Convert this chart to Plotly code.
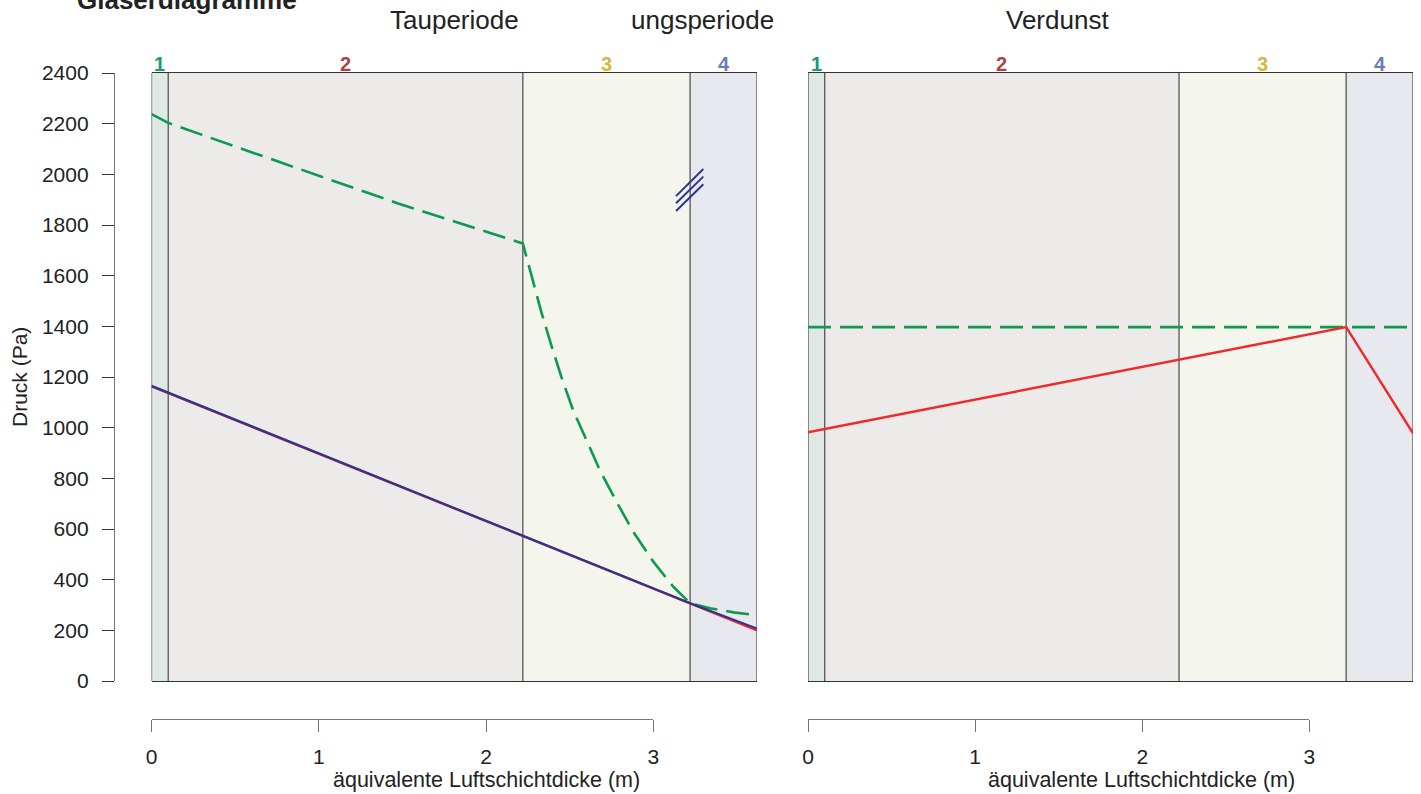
import plotly.graph_objects as go

# ---------------- data ----------------
layer_names = ["1", "2", "3", "4"]
layer_bounds = [0.0, 0.10, 2.22, 3.22, 3.62]
layer_fill = ["#e0e8e5", "#ecebe9", "#f4f5ed", "#e8e9ee"]
layer_label_colors = ["#1b9a6c", "#a3474a", "#cdbd3c", "#6a7ab8"]

x_ticks = [0, 1, 2, 3]
y_ticks = [0, 200, 400, 600, 800, 1000, 1200, 1400, 1600, 1800, 2000, 2200, 2400]

# Tauperiode (left panel)
tau_psat_x = [0.0, 0.10, 0.50, 0.90, 1.47, 2.22, 2.28, 2.33, 2.39, 2.45, 2.52, 2.60,
              2.68, 2.78, 2.88, 3.00, 3.12, 3.22, 3.34, 3.48, 3.62]
tau_psat_y = [2238, 2203, 2110, 2017, 1886, 1727, 1583, 1458, 1326, 1201, 1070, 951,
              833, 708, 589, 471, 372, 307, 287, 271, 260]
tau_pv_x = [0.0, 3.62]
tau_pv_y = [1163, 200]
tau_pc_x = [0.0, 3.22, 3.62]
tau_pc_y = [1165, 307, 207]
hatch_x = [3.136, 3.299]
hatch_y = [[1914, 2021], [1886, 1991], [1855, 1961]]

# Verdunstungsperiode (right panel)
verd_psat_x = [0.0, 3.62]
verd_psat_y = [1397, 1397]
verd_pv_x = [0.0, 3.22, 3.62]
verd_pv_y = [982, 1397, 978]

# ---------------- styling / layout ----------------
W, H = 1421, 794
FONT = "Liberation Sans, Arial, Helvetica, sans-serif"
GREEN = "#0b9a50"
RED = "#f02a2a"
BLUE = "#2b3592"

def fx(px):
    return px / W

def fy(py):
    return 1 - py / H

panel_top, panel_bot = 73, 681
left_x0, left_x1 = 151.5, 757
right_x0, right_x1 = 808, 1413
x_max = layer_bounds[-1]

fig = go.Figure()

dash = "23px,9px"
# left panel traces
fig.add_trace(go.Scatter(x=tau_psat_x, y=tau_psat_y, mode="lines", xaxis="x", yaxis="y",
                         line=dict(color=GREEN, width=2.6, dash=dash), hoverinfo="skip"))
fig.add_trace(go.Scatter(x=tau_pv_x, y=tau_pv_y, mode="lines", xaxis="x", yaxis="y",
                         line=dict(color=RED, width=2.4), hoverinfo="skip"))
fig.add_trace(go.Scatter(x=tau_pc_x, y=tau_pc_y, mode="lines", xaxis="x", yaxis="y",
                         line=dict(color=BLUE, width=2.2), hoverinfo="skip"))
for hy in hatch_y:
    fig.add_trace(go.Scatter(x=hatch_x, y=hy, mode="lines", xaxis="x", yaxis="y",
                             line=dict(color=BLUE, width=2), hoverinfo="skip"))
# right panel traces
fig.add_trace(go.Scatter(x=verd_psat_x, y=verd_psat_y, mode="lines", xaxis="x2", yaxis="y2",
                         line=dict(color=GREEN, width=2.6, dash=dash), hoverinfo="skip"))
fig.add_trace(go.Scatter(x=verd_pv_x, y=verd_pv_y, mode="lines", xaxis="x2", yaxis="y2",
                         line=dict(color=RED, width=2.4), hoverinfo="skip"))
# dummy traces to activate the separate bottom axes
fig.add_trace(go.Scatter(x=[x_ticks[0], x_ticks[-1]], y=[None, None], mode="lines",
                         xaxis="x3", yaxis="y", hoverinfo="skip"))
fig.add_trace(go.Scatter(x=[x_ticks[0], x_ticks[-1]], y=[None, None], mode="lines",
                         xaxis="x4", yaxis="y2", hoverinfo="skip"))

shapes = []
for xr, yr in (("x", "y domain"), ("x2", "y2 domain")):
    for i in range(len(layer_names)):
        shapes.append(dict(type="rect", xref=xr, yref=yr, x0=layer_bounds[i], x1=layer_bounds[i + 1],
                           y0=0, y1=1, fillcolor=layer_fill[i], line=dict(width=0), layer="below"))
    for b in layer_bounds:
        shapes.append(dict(type="line", xref=xr, yref=yr, x0=b, x1=b, y0=0, y1=1,
                           line=dict(color="#555555", width=1.3), layer="below"))

annotations = []
for xr in ("x", "x2"):
    for i, name in enumerate(layer_names):
        annotations.append(dict(text="<b>%s</b>" % name, xref=xr, yref="paper",
                                x=(layer_bounds[i] + layer_bounds[i + 1]) / 2, y=fy(64),
                                showarrow=False, xanchor="center", yanchor="middle",
                                font=dict(size=20, color=layer_label_colors[i], family=FONT)))

def txt(t, x, y, size, bold=False, angle=0):
    annotations.append(dict(text=("<b>%s</b>" % t) if bold else t, xref="paper", yref="paper",
                            x=fx(x), y=fy(y), showarrow=False, xanchor="center", yanchor="middle",
                            textangle=angle, font=dict(size=size, color="#222222", family=FONT)))

txt("Glaserdiagramme", 187.5, 0, 26, bold=True)
txt("Tauperiode", 454, 20, 26)
txt("ungsperiode", 702.5, 20, 26)
txt("Verdunst", 1057, 20, 26)
txt("Druck (Pa)", 19, 377, 21, angle=-90)
txt("äquivalente Luftschichtdicke (m)", 486, 780, 21.5)
txt("äquivalente Luftschichtdicke (m)", 1141, 780, 21.5)

dom_y = [fy(panel_bot), fy(panel_top)]
unit_px = (left_x1 - left_x0) / x_max
unit_px_r = (right_x1 - right_x0) / x_max

common = dict(automargin=False, showgrid=False, zeroline=False, fixedrange=True)

fig.update_layout(
    template="none",
    width=W, height=H,
    margin=dict(l=0, r=0, t=0, b=0, pad=0),
    paper_bgcolor="white", plot_bgcolor="rgba(0,0,0,0)",
    showlegend=False,
    font=dict(family=FONT, size=21, color="#222222"),
    shapes=shapes, annotations=annotations,
    xaxis=dict(domain=[fx(left_x0), fx(left_x1)], range=[0, x_max], anchor="y",
               showline=True, mirror=True, linecolor="#333333", linewidth=1.3,
               ticks="", showticklabels=False, **common),
    yaxis=dict(domain=dom_y, range=[0, 2400], anchor="free", position=fx(114), side="left",
               showline=True, linecolor="#777777", linewidth=1.3,
               ticks="outside", ticklen=12, tickcolor="#333333", tickwidth=1.2,
               tickvals=y_ticks, ticktext=[str(v) for v in y_ticks], ticklabelstandoff=9,
               tickfont=dict(size=21, color="#222222"), **common),
    xaxis2=dict(domain=[fx(right_x0), fx(right_x1)], range=[0, x_max], anchor="y2",
                showline=True, mirror=True, linecolor="#333333", linewidth=1.3,
                ticks="", showticklabels=False, **common),
    yaxis2=dict(domain=dom_y, range=[0, 2400], anchor="x2", visible=False, **common),
    xaxis3=dict(domain=[fx(left_x0), fx(left_x0 + x_ticks[-1] * unit_px)],
                range=[x_ticks[0], x_ticks[-1]], anchor="free", position=fy(719),
                showline=True, linecolor="#777777", linewidth=1.3,
                ticks="outside", ticklen=12, tickcolor="#777777", tickwidth=1.2,
                tickvals=x_ticks, ticklabelstandoff=7,
                tickfont=dict(size=21, color="#222222"), **common),
    xaxis4=dict(domain=[fx(right_x0), fx(right_x0 + x_ticks[-1] * unit_px_r)],
                range=[x_ticks[0], x_ticks[-1]], anchor="free", position=fy(719),
                showline=True, linecolor="#777777", linewidth=1.3,
                ticks="outside", ticklen=12, tickcolor="#777777", tickwidth=1.2,
                tickvals=x_ticks, ticklabelstandoff=7,
                tickfont=dict(size=21, color="#222222"), **common),
)

fig.write_html("out.html", config={"displayModeBar": False},
               post_script="document.body.style.margin='0px';document.body.style.overflow='hidden';")
